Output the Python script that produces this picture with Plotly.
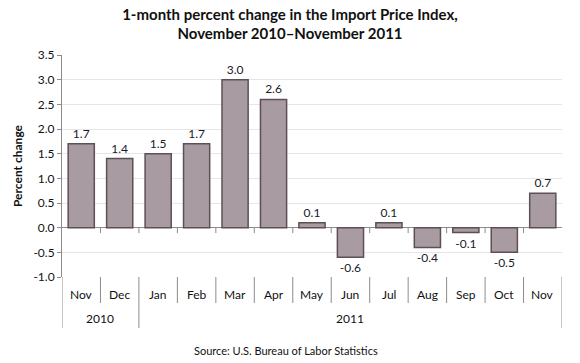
import plotly.graph_objects as go

months = ["Nov", "Dec", "Jan", "Feb", "Mar", "Apr", "May", "Jun", "Jul", "Aug", "Sep", "Oct", "Nov"]
years = ["2010", "2011"]
year_spans = [(0, 1), (2, 12)]
values = [1.7, 1.4, 1.5, 1.7, 3.0, 2.6, 0.1, -0.6, 0.1, -0.4, -0.1, -0.5, 0.7]
y_ticks = [-1.0, -0.5, 0.0, 0.5, 1.0, 1.5, 2.0, 2.5, 3.0, 3.5]

FONT = "Lato, 'Open Sans', sans-serif"
xs = list(range(len(months)))

fig = go.Figure()
fig.add_trace(go.Bar(
    x=xs, y=values, width=0.68,
    marker=dict(color="#a99ba2", line=dict(color="#5c5057", width=1.5)),
    text=[f"{v:.1f}" for v in values], textposition="outside",
    textfont=dict(family=FONT, size=12, color="#1a1a2a"),
    cliponaxis=False, hoverinfo="skip",
))

shapes = []
for i in range(1, len(months)):
    shapes.append(dict(type="line", xref="x", yref="y", x0=i - 0.5, x1=i - 0.5, y0=0, y1=-0.11,
                       line=dict(color="#8c8c8c", width=1)))
year_bounds = set()
for a, b in year_spans:
    year_bounds.add(a - 0.5)
    year_bounds.add(b + 0.5)
for i in range(len(months) + 1):
    xb = i - 0.5
    y1 = -0.23 if xb in year_bounds else -0.117
    shapes.append(dict(type="line", xref="x", yref="paper", x0=xb, x1=xb, y0=0, y1=y1,
                       line=dict(color="#8c8c8c", width=1)))

annotations = []
for i, m in enumerate(months):
    annotations.append(dict(x=i, y=-0.081, xref="x", yref="paper", text=m, showarrow=False,
                            font=dict(family=FONT, size=12, color="#111"), yanchor="middle"))
for yr, (a, b) in zip(years, year_spans):
    annotations.append(dict(x=(a + b) / 2, y=-0.189, xref="x", yref="paper", text=yr, showarrow=False,
                            font=dict(family=FONT, size=12, color="#111"), yanchor="middle"))
annotations.append(dict(x=0.448, y=-0.333, xref="paper", yref="paper", text="Source: U.S. Bureau of Labor Statistics",
                        showarrow=False, font=dict(family=FONT, size=11, color="#111"), yanchor="middle"))

fig.update_layout(
    width=580, height=363,
    margin=dict(l=62, r=18, t=55, b=86),
    paper_bgcolor="white", plot_bgcolor="white",
    title=dict(text="<b>1-month percent change in the Import Price Index,<br>November 2010\u2013November 2011</b>",
               x=0.5, xanchor="center", y=0.945, yanchor="top",
               font=dict(family=FONT, size=15, color="#111")),
    showlegend=False,
    xaxis=dict(range=[-0.5, len(months) - 0.5], showticklabels=False, showgrid=False,
               zeroline=False, showline=False, ticks=""),
    yaxis=dict(range=[-1.0, 3.5], tickvals=y_ticks, ticktext=[f"{t:.1f}" for t in y_ticks],
               showgrid=True, gridcolor="#e6e6e6", gridwidth=1,
               zeroline=True, zerolinecolor="#8c8c8c", zerolinewidth=1,
               showline=True, linecolor="#8c8c8c", linewidth=1,
               ticks="outside", ticklen=4, tickcolor="#8c8c8c",
               tickfont=dict(family=FONT, size=12, color="#111"),
               title=dict(text="<b>Percent change</b>", font=dict(family=FONT, size=12, color="#111"), standoff=8)),
    shapes=shapes, annotations=annotations,
    bargap=0.3,
)

fig.write_html("out.html", config={"displayModeBar": False},
               post_script="document.body.style.margin='0';document.body.style.overflow='hidden';")
